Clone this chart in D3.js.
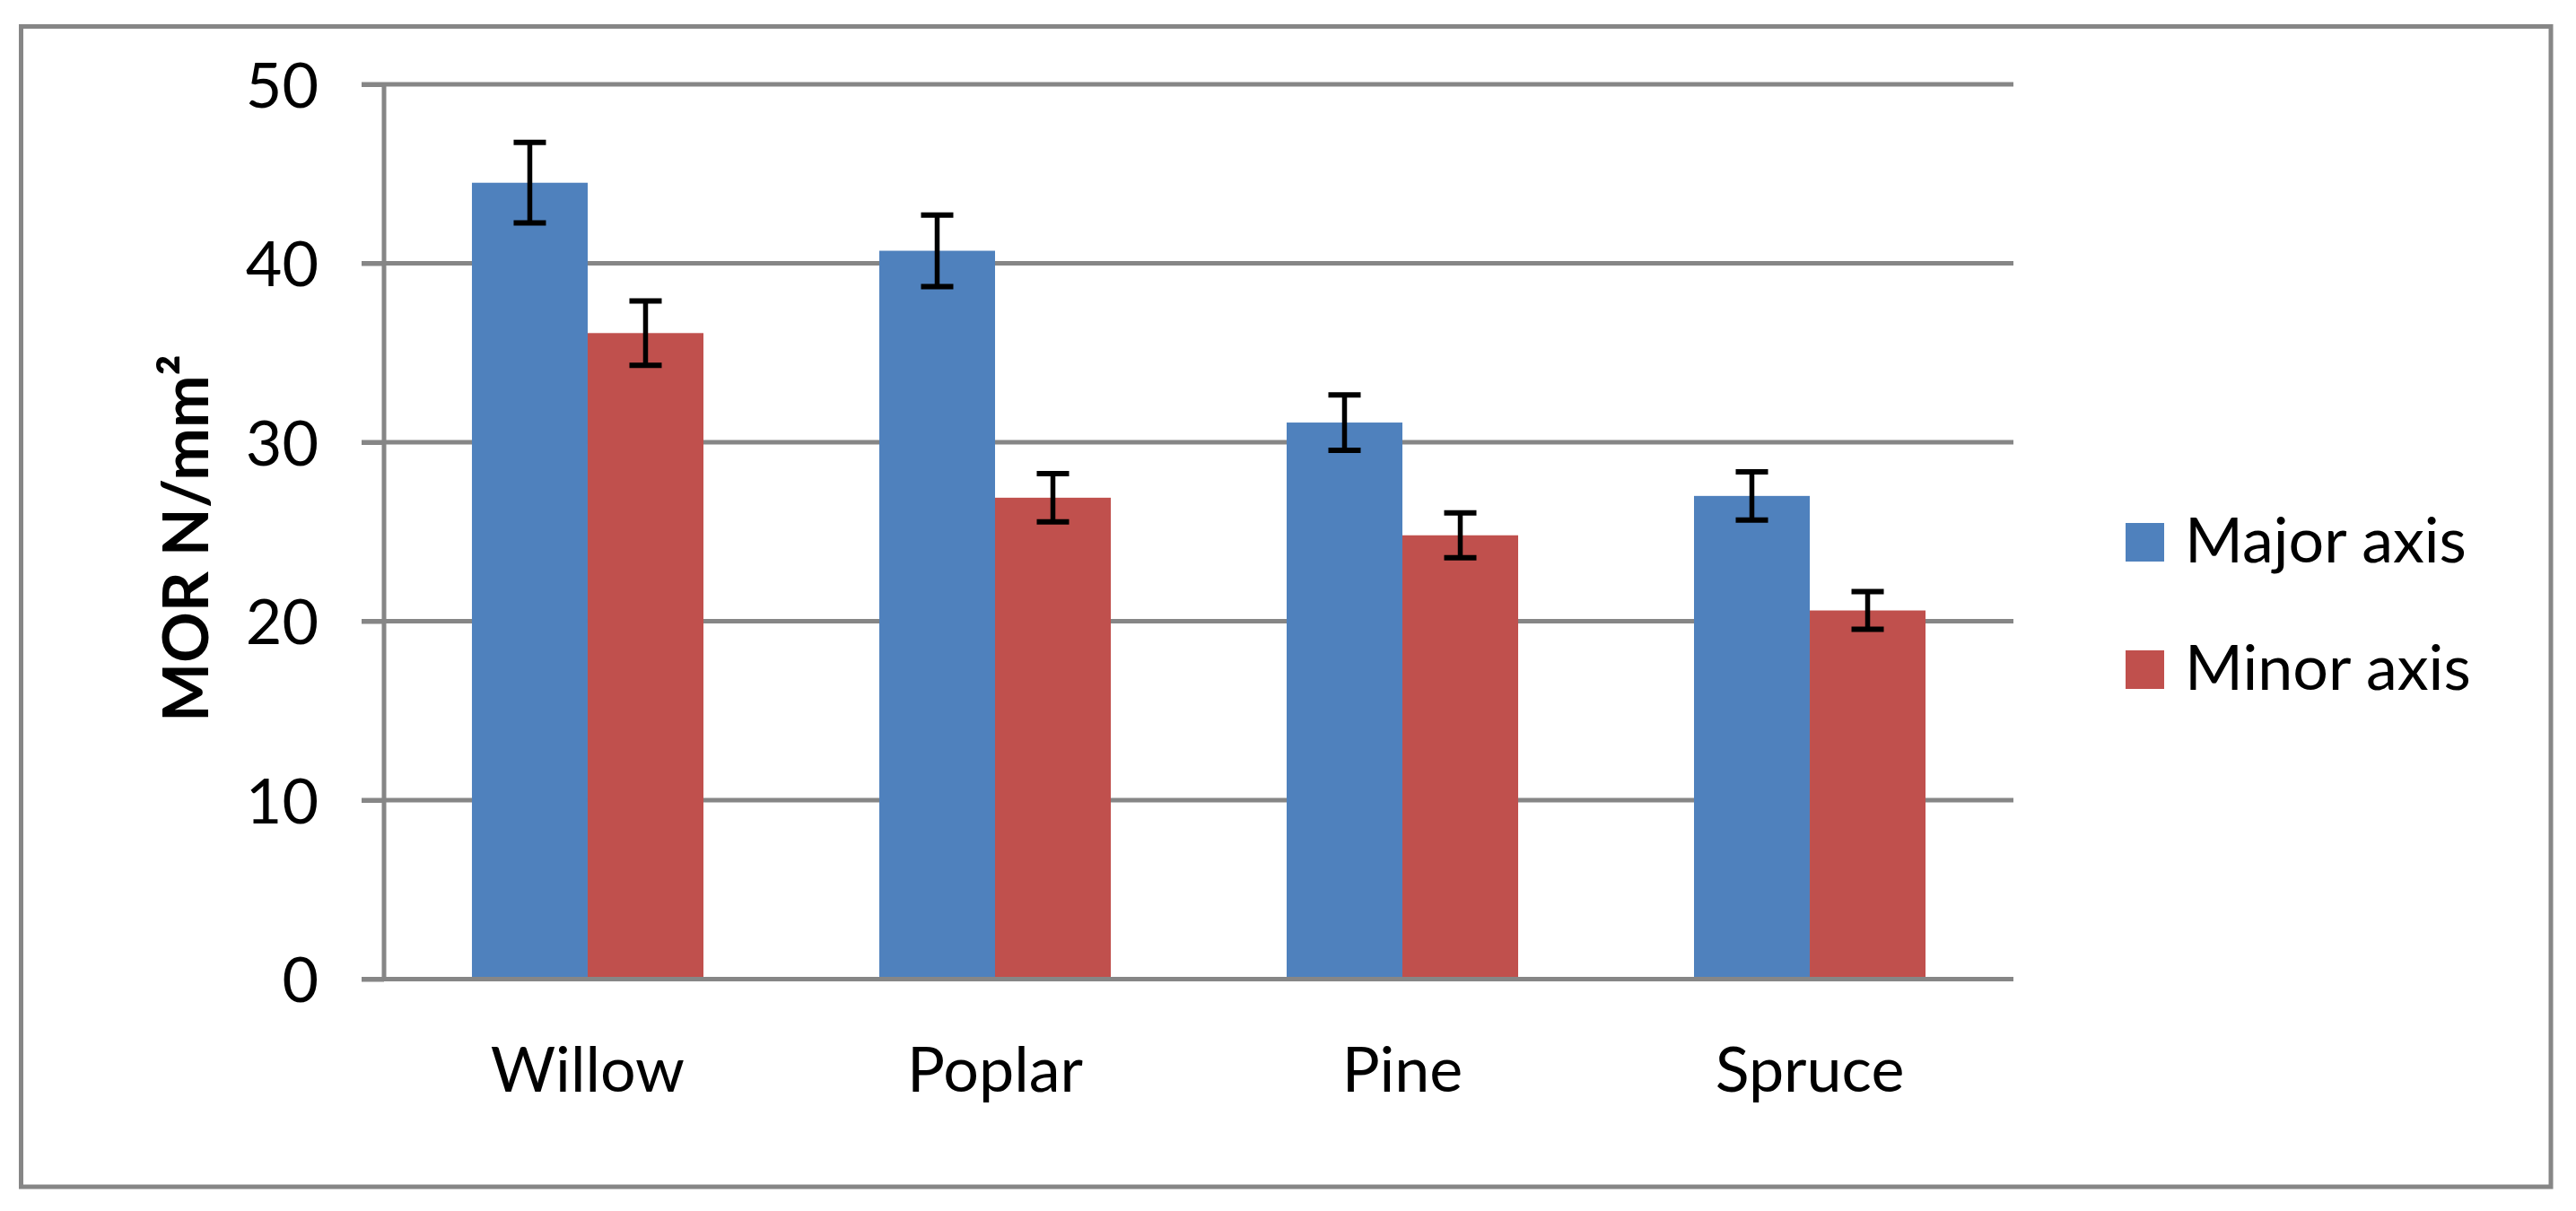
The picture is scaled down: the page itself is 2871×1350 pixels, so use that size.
<!DOCTYPE html>
<html>

<head>
    <title>MOR chart</title>
    <script src="https://cdn.jsdelivr.net/npm/d3@7"></script>
    <style>
        * {
            padding: 0;
            margin: 0;
        }

        body {
            overflow: hidden;
            background: #fff;
        }

        text {
            font-family: Lato, "Open Sans", sans-serif;
        }
    </style>
</head>

<body>
    <div id="chart"></div>
</body>
<script>
    // data
    const categories = ['Willow', 'Poplar', 'Pine', 'Spruce']
    const seriesNames = ['Major axis', 'Minor axis']
    const majorValues = [44.5, 40.7, 31.1, 27.0]
    const majorErrors = [2.25, 2.0, 1.55, 1.35]
    const minorValues = [36.1, 26.9, 24.8, 20.6]
    const minorErrors = [1.8, 1.35, 1.25, 1.05]
    const yTicks = [0, 10, 20, 30, 40, 50]
    const colors = ['#4F81BD', '#C0504D']

    const W = 2871,
        H = 1350
    const plotLeft = 428,
        plotRight = 2244,
        plotTop = 94,
        plotBottom = 1091.5
    const gridColor = '#868686'

    const svg = d3.select('#chart').append('svg')
        .attr('width', W)
        .attr('height', H)

    // outer frame
    svg.append('rect')
        .attr('x', 23.5)
        .attr('y', 29.5)
        .attr('width', 2843 - 23.5)
        .attr('height', 1323 - 29.5)
        .attr('fill', '#fff')
        .attr('stroke', gridColor)
        .attr('stroke-width', 5)

    const y = d3.scaleLinear().domain([0, 50]).range([plotBottom, plotTop])
    const x = d3.scaleBand().domain(categories).range([plotLeft, plotRight])
        .paddingInner(0.4317).paddingOuter(0.2158)
    const xSub = d3.scaleBand().domain(seriesNames).range([0, x.bandwidth()])

    // gridlines (they run out past the axis as the tick marks)
    svg.append('g').selectAll('line')
        .data(yTicks.filter(d => d > 0))
        .enter().append('line')
        .attr('x1', plotLeft - 25)
        .attr('x2', plotRight)
        .attr('y1', d => y(d))
        .attr('y2', d => y(d))
        .attr('stroke', gridColor)
        .attr('stroke-width', 5)

    const rows = categories.map((c, i) => [
        { cat: c, s: seriesNames[0], v: majorValues[i], e: majorErrors[i], k: 0 },
        { cat: c, s: seriesNames[1], v: minorValues[i], e: minorErrors[i], k: 1 }
    ]).flat()

    const groups = svg.append('g').selectAll('g')
        .data(rows)
        .enter().append('g')
        .attr('transform', d => 'translate(' + (x(d.cat) + xSub(d.s)) + ',0)')

    groups.append('rect')
        .attr('x', 0)
        .attr('y', d => y(d.v))
        .attr('width', xSub.bandwidth())
        .attr('height', d => y(0) - y(d.v))
        .attr('fill', d => colors[d.k])

    // error bars
    const cx = xSub.bandwidth() / 2
    const capW = 18
    groups.append('line')
        .attr('x1', cx).attr('x2', cx)
        .attr('y1', d => y(d.v + d.e))
        .attr('y2', d => y(d.v - d.e))
        .attr('stroke', '#000')
        .attr('stroke-width', 5.5)
    groups.append('line')
        .attr('x1', cx - capW).attr('x2', cx + capW)
        .attr('y1', d => y(d.v + d.e))
        .attr('y2', d => y(d.v + d.e))
        .attr('stroke', '#000')
        .attr('stroke-width', 6)
    groups.append('line')
        .attr('x1', cx - capW).attr('x2', cx + capW)
        .attr('y1', d => y(d.v - d.e))
        .attr('y2', d => y(d.v - d.e))
        .attr('stroke', '#000')
        .attr('stroke-width', 6)

    // y axis
    const yAxis = svg.append('g')
        .attr('transform', 'translate(' + plotLeft + ',0)')
        .call(d3.axisLeft(y).tickValues(yTicks).tickSize(25).tickPadding(48))
    yAxis.select('.domain').attr('stroke', gridColor).attr('stroke-width', 5)
        .attr('d', 'M0,' + plotTop + 'V' + plotBottom)
    yAxis.selectAll('.tick line').attr('stroke', gridColor).attr('stroke-width', 5)
    yAxis.selectAll('.tick text')
        .attr('font-size', 70)
        .attr('font-family', 'Lato, sans-serif')
        .attr('fill', '#000')
        .attr('dy', '0.36em')

    // x axis
    const xAxis = svg.append('g')
        .attr('transform', 'translate(0,' + plotBottom + ')')
        .call(d3.axisBottom(x).tickSize(0))
    xAxis.select('.domain').attr('stroke', gridColor).attr('stroke-width', 5)
        .attr('d', 'M' + (plotLeft - 25) + ',0H' + plotRight)
    xAxis.selectAll('.tick text')
        .attr('font-size', 70)
        .attr('font-family', 'Lato, sans-serif')
        .attr('fill', '#000')
        .attr('y', 125.5)
        .attr('dy', 0)

    // y title
    svg.append('text')
        .attr('transform', 'translate(232,600) rotate(-90)')
        .attr('text-anchor', 'middle')
        .attr('font-size', 70)
        .attr('font-weight', 'bold')
        .text('MOR N/mm²')

    // legend
    const legend = svg.append('g').selectAll('g')
        .data(seriesNames)
        .enter().append('g')
        .attr('transform', (d, i) => 'translate(2369,' + (583 + i * 142) + ')')
    legend.append('rect')
        .attr('width', 43)
        .attr('height', 43)
        .attr('fill', (d, i) => colors[i])
    legend.append('text')
        .attr('x', 66)
        .attr('y', 44)
        .attr('font-size', 70)
        .text(d => d)
</script>

</html>
